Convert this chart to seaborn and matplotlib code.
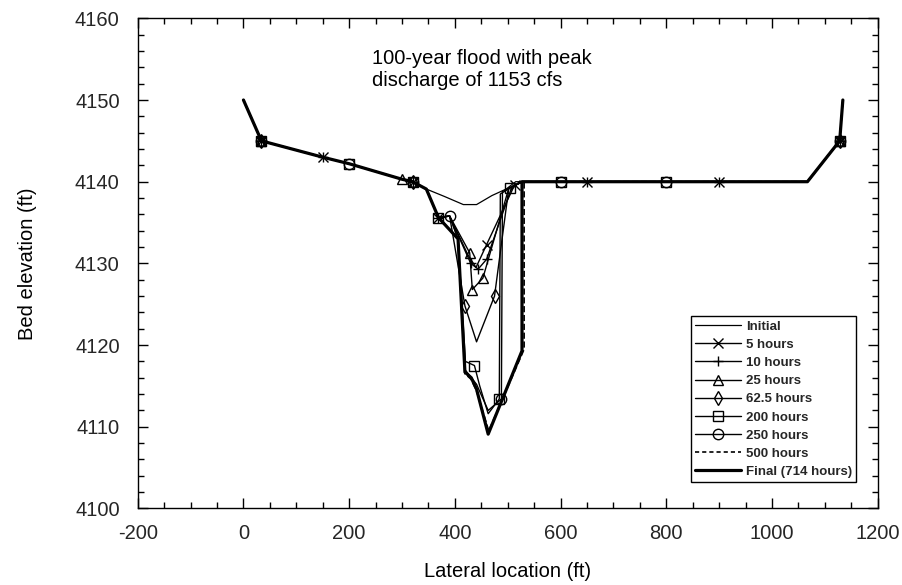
import matplotlib
matplotlib.use("Agg")
import matplotlib.pyplot as plt
from matplotlib.lines import Line2D
from matplotlib.ticker import MultipleLocator
import seaborn as sns

# ---------------- data ----------------
# shared banks
left_x = [0, 34, 150, 200, 300, 320, 346]
left_y = [4150, 4145, 4143, 4142.2, 4140.3, 4140, 4139.1]
right_x = [600, 650, 800, 900, 1067, 1128, 1134]
right_y = [4140, 4140, 4140, 4140, 4140, 4145, 4150]

# channel part of each profile
initial_x = [380, 416, 441, 470, 497, 515, 528]
initial_y = [4138.2, 4137.2, 4137.2, 4138.3, 4139.1, 4140, 4140]
h5_x = [369, 390, 425, 440, 460, 513, 528]
h5_y = [4135.6, 4135.8, 4131.0, 4129.5, 4132.3, 4139.6, 4140]
h10_x = [369, 390, 430, 444, 460, 508, 528]
h10_y = [4135.6, 4135.8, 4130.0, 4129.3, 4130.5, 4139.4, 4140]
h25_x = [369, 390, 428, 433, 453, 502, 528]
h25_y = [4135.6, 4135.8, 4131.3, 4126.8, 4128.2, 4139.2, 4140]
h62_x = [369, 390, 419, 441, 475, 502, 528]
h62_y = [4135.6, 4135.8, 4124.8, 4120.4, 4126.0, 4139.2, 4140]
h200_x = [369, 390, 406, 420, 437, 447, 463, 484, 486, 504, 528]
h200_y = [4135.6, 4135.8, 4133.0, 4118.0, 4117.5, 4115.0, 4111.6, 4113.4, 4138.5, 4139.2, 4140]
h250_x = [369, 390, 406, 419, 441, 463, 488, 490, 508, 528]
h250_y = [4135.6, 4135.8, 4133.0, 4117.0, 4115.2, 4112.0, 4113.4, 4138.8, 4139.4, 4140]
h500_x = [369, 406, 419, 431, 441, 464, 531, 531]
h500_y = [4135.6, 4133.0, 4116.5, 4115.8, 4114.4, 4109.5, 4119.5, 4140]
final_x = [369, 406, 419, 431, 441, 463, 527, 527]
final_y = [4135.6, 4133.0, 4116.7, 4116.0, 4114.6, 4109.1, 4119.3, 4140]

# lateral locations that carry a symbol in each profile
h5_marks = [34, 150, 320, 369, 460, 513, 650, 900, 1128]
h10_marks = [34, 150, 320, 369, 430, 444, 460, 650, 900, 1128]
h25_marks = [34, 300, 428, 433, 453, 1128]
h62_marks = [34, 320, 419, 475, 1128]
h200_marks = [34, 200, 320, 369, 437, 484, 504, 600, 800, 1128]
h250_marks = [34, 200, 320, 390, 488, 600, 800, 1128]

labels = ["Initial", "5 hours", "10 hours", "25 hours", "62.5 hours",
          "200 hours", "250 hours", "500 hours", "Final (714 hours)"]

title_lines = ["100-year flood with peak", "discharge of 1153 cfs"]
x_ticks = [-200, 0, 200, 400, 600, 800, 1000, 1200]
y_ticks = [4100, 4110, 4120, 4130, 4140, 4150, 4160]

# ---------------- styling ----------------
sns.set_theme(style="ticks")
plt.rcParams["font.family"] = ["Liberation Sans", "DejaVu Sans"]
plt.rcParams["axes.linewidth"] = 1.0
plt.rcParams["axes.unicode_minus"] = False

fig = plt.figure(figsize=(9.02, 5.85), dpi=100)
ax = fig.add_axes([0.1527, 0.1308, 0.8204, 0.8379])
fig.patch.set_facecolor("white")
ax.set_facecolor("white")

series = [
    (initial_x, initial_y, None, None, "-", 0.9),
    (h5_x, h5_y, "x", h5_marks, "-", 1.0),
    (h10_x, h10_y, "+", h10_marks, "-", 1.0),
    (h25_x, h25_y, "^", h25_marks, "-", 1.0),
    (h62_x, h62_y, "d", h62_marks, "-", 1.0),
    (h200_x, h200_y, "s", h200_marks, "-", 1.0),
    (h250_x, h250_y, "o", h250_marks, "-", 1.0),
    (h500_x, h500_y, None, None, "--", 1.2),
    (final_x, final_y, None, None, "-", 2.3),
]

handles = []
for (mx, my, mk, marks, ls, lw), lab in zip(series, labels):
    xs = left_x + mx + right_x
    ys = left_y + my + right_y
    line_kw = dict(color="black", linewidth=lw, linestyle=ls)
    if ls == "--":
        line_kw["dashes"] = (2.5, 1.8)
    sns.lineplot(x=xs, y=ys, sort=False, estimator=None, ax=ax,
                 legend=False, **line_kw)
    if mk is not None:
        idx = [xs.index(v) for v in marks]
        px = [xs[i] for i in idx]
        py = [ys[i] for i in idx]
        sns.lineplot(x=px, y=py, sort=False, estimator=None, ax=ax,
                     legend=False, linestyle="", marker=mk, markersize=7.5,
                     markerfacecolor="none", markeredgecolor="black",
                     markeredgewidth=1.0, color="black")
    h = Line2D([], [], color="black", linewidth=lw, linestyle=ls,
               marker=mk if mk else "None", markersize=7.5,
               markerfacecolor="none", markeredgecolor="black",
               markeredgewidth=1.0)
    if ls == "--":
        h.set_dashes((2.5, 1.8))
    handles.append(h)

# ---------------- axes ----------------
ax.set_xlim(-200, 1200)
ax.set_ylim(4100, 4160)
ax.set_xticks(x_ticks)
ax.set_yticks(y_ticks)
ax.xaxis.set_minor_locator(MultipleLocator(50))
ax.yaxis.set_minor_locator(MultipleLocator(2))
ax.tick_params(which="both", direction="in", top=True, right=True,
               color="black", width=1.0)
ax.tick_params(which="major", length=7)
ax.tick_params(which="minor", length=4)
ax.tick_params(axis="x", which="major", pad=11, labelsize=14.5)
ax.tick_params(axis="y", which="major", pad=13, labelsize=14.5)
for s in ax.spines.values():
    s.set_color("black")
    s.set_linewidth(1.0)

ax.set_xlabel("Lateral location (ft)", fontsize=14.5, labelpad=14, color="black")
ax.set_ylabel("Bed elevation (ft)", fontsize=14.5, labelpad=27, color="black")

ax.text(243, 4154.4, title_lines[0], fontsize=14.5, va="baseline", ha="left",
        color="black")
ax.text(243, 4151.7, title_lines[1], fontsize=14.5, va="baseline", ha="left",
        color="black")

leg = ax.legend(handles, labels, loc="lower right",
                bbox_to_anchor=(0.9707, 0.054), borderaxespad=0,
                prop={"size": 9.5, "weight": "bold"}, handlelength=3.5,
                handletextpad=0.4, labelspacing=0.45, borderpad=0.3,
                fancybox=False, framealpha=1, edgecolor="black",
                numpoints=1)
leg.get_frame().set_linewidth(1.0)

fig.savefig("out.png", dpi=100, facecolor="white")
